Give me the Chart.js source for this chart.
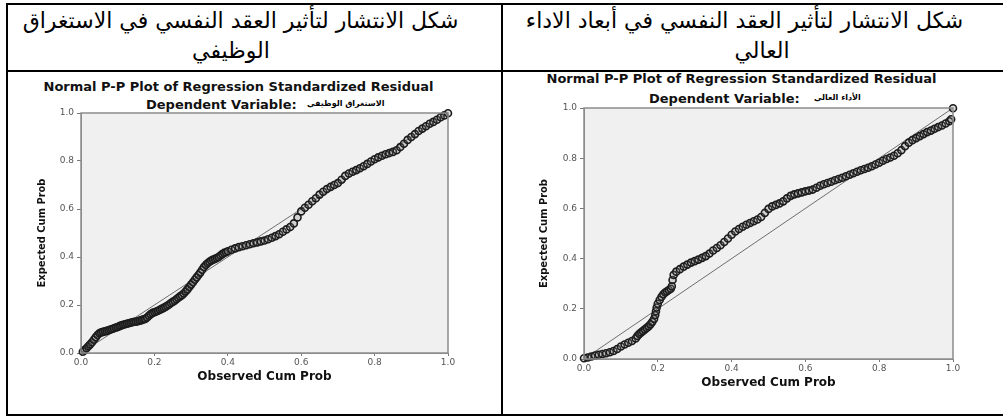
<!DOCTYPE html>
<html>
<head>
<meta charset="utf-8">
<script src="https://cdn.jsdelivr.net/npm/chart.js@4.4.1/dist/chart.umd.min.js"></script>
<style>
  html, body { margin: 0; padding: 0; background: #fff; }
  body { width: 1003px; height: 416px; position: relative; overflow: hidden; }
  .rule { position: absolute; background: #000; }
  .line { position: absolute; direction: rtl; white-space: nowrap; text-align: center;
          font-family: "DejaVu Sans", sans-serif; font-size: 22px; line-height: 28px; color: #000; }
  .ttl { position: absolute; white-space: nowrap; font: bold 13px "DejaVu Sans", sans-serif;
         line-height: 16px; color: #111; }
  .dep { position: absolute; white-space: nowrap; direction: rtl; font: bold 8px "DejaVu Sans", sans-serif;
         line-height: 10px; color: #000; }
  canvas { position: absolute; top: 73px; }
</style>
</head>
<body>
<!-- table rules -->
<div class="rule" style="left:6px; top:3px; width:997px; height:2px"></div>
<div class="rule" style="left:6px; top:3px; width:2px; height:413px"></div>
<div class="rule" style="left:501px; top:3px; width:2px; height:413px"></div>
<div class="rule" style="left:6px; top:70px; width:997px; height:2px"></div>
<div class="rule" style="left:6px; top:414px; width:997px; height:2px"></div>

<!-- header cells -->
<div class="line" style="left:0; width:481px; top:7px">شكل الانتشار لتأثير العقد النفسي  في الاستغراق</div>
<div class="line" style="left:0; width:462px; top:37px">الوظيفي</div>
<div class="line" style="left:505px; width:479px; top:7px">شكل الانتشار لتأثير العقد النفسي  في أبعاد الاداء</div>
<div class="line" style="left:505px; width:514px; top:37px">العالي</div>

<!-- chart titles -->
<div class="ttl" style="left:40px; width:397px; text-align:center; top:79px">Normal P-P Plot of Regression Standardized Residual</div>
<div class="ttl" style="left:146px; top:97px">Dependent Variable:</div>
<div class="dep" style="left:307px; top:99px">الاستغراق الوظيفي</div>

<div class="ttl" style="left:542px; width:399px; text-align:center; top:71px">Normal P-P Plot of Regression Standardized Residual</div>
<div class="ttl" style="left:649px; top:91px">Dependent Variable:</div>
<div class="dep" style="left:814px; top:93px">الأداء العالي</div>

<canvas id="ppLeft" width="491" height="340" style="left:9px"></canvas>
<canvas id="ppRight" width="497" height="340" style="left:504px"></canvas>

<script>
// axis ticks shared by both plots
const tickLabels = ["0.0", "0.2", "0.4", "0.6", "0.8", "1.0"];
const refLine = [0, 1];

// left plot: الاستغراق الوظيفي
const leftObserved = [
  0.005, 0.01, 0.015, 0.02, 0.025, 0.03, 0.035, 0.04, 0.045, 0.05,
  0.055, 0.06, 0.065, 0.07, 0.075, 0.08, 0.085, 0.09, 0.095, 0.1,
  0.105, 0.11, 0.115, 0.12, 0.125, 0.13, 0.135, 0.14, 0.145, 0.15,
  0.155, 0.16, 0.165, 0.17, 0.175, 0.18, 0.185, 0.19, 0.195, 0.2,
  0.205, 0.21, 0.215, 0.22, 0.225, 0.23, 0.235, 0.24, 0.245, 0.25,
  0.255, 0.26, 0.265, 0.27, 0.275, 0.28, 0.285, 0.29, 0.295, 0.3,
  0.305, 0.31, 0.315, 0.32, 0.325, 0.33, 0.335, 0.34, 0.345, 0.35,
  0.355, 0.36, 0.365, 0.37, 0.375, 0.38, 0.385, 0.39, 0.395, 0.4,
  0.41, 0.42, 0.43, 0.44, 0.45, 0.46, 0.47, 0.48, 0.49, 0.5,
  0.51, 0.52, 0.53, 0.54, 0.55, 0.56, 0.57, 0.58, 0.59, 0.6,
  0.61, 0.62, 0.63, 0.64, 0.65, 0.66, 0.67, 0.68, 0.69, 0.7,
  0.71, 0.72, 0.73, 0.74, 0.75, 0.76, 0.77, 0.78, 0.79, 0.8,
  0.81, 0.82, 0.83, 0.84, 0.85, 0.86, 0.87, 0.88, 0.89, 0.9,
  0.91, 0.92, 0.93, 0.94, 0.95, 0.96, 0.97, 0.98, 0.99, 1.0
];
const leftExpected = [
  0.005, 0.012, 0.02, 0.028, 0.036, 0.045, 0.055, 0.065, 0.075, 0.082,
  0.086, 0.088, 0.09, 0.092, 0.095, 0.098, 0.1, 0.103, 0.106, 0.108,
  0.112, 0.115, 0.118, 0.12, 0.122, 0.124, 0.126, 0.128, 0.13, 0.13,
  0.132, 0.135, 0.137, 0.14, 0.142, 0.148, 0.155, 0.162, 0.167, 0.17,
  0.173, 0.176, 0.18, 0.184, 0.188, 0.192, 0.197, 0.202, 0.208, 0.213,
  0.218, 0.224, 0.23, 0.236, 0.241, 0.248, 0.256, 0.265, 0.275, 0.285,
  0.295, 0.305, 0.315, 0.325, 0.335, 0.347, 0.358, 0.367, 0.374, 0.38,
  0.385, 0.389, 0.392, 0.396, 0.4, 0.406, 0.412, 0.417, 0.42, 0.424,
  0.43, 0.436, 0.441, 0.445, 0.449, 0.453, 0.457, 0.461, 0.465, 0.469,
  0.474, 0.48, 0.487, 0.495, 0.505, 0.515, 0.525, 0.54, 0.565, 0.59,
  0.605, 0.618, 0.632, 0.645, 0.66, 0.672, 0.683, 0.692, 0.7, 0.708,
  0.722, 0.738, 0.748, 0.755, 0.762, 0.77, 0.778, 0.788, 0.798, 0.807,
  0.815, 0.822, 0.828, 0.833, 0.838, 0.845, 0.858, 0.872, 0.888, 0.9,
  0.912, 0.925, 0.935, 0.945, 0.955, 0.963, 0.972, 0.982, 0.99, 0.999
];

// right plot: الأداء العالي
const rightObserved = [
  0.0, 0.01, 0.02, 0.03, 0.04, 0.05, 0.06, 0.07, 0.08, 0.09,
  0.1, 0.11, 0.12, 0.13, 0.14, 0.145, 0.15, 0.155, 0.16, 0.165,
  0.17, 0.175, 0.18, 0.185, 0.19, 0.193, 0.195, 0.197, 0.2, 0.205,
  0.21, 0.215, 0.22, 0.225, 0.23, 0.235, 0.238, 0.24, 0.243, 0.25,
  0.26, 0.27, 0.28, 0.29, 0.3, 0.31, 0.32, 0.33, 0.34, 0.35,
  0.36, 0.37, 0.38, 0.39, 0.4, 0.41, 0.42, 0.43, 0.44, 0.45,
  0.46, 0.47, 0.48, 0.49, 0.5, 0.51, 0.52, 0.53, 0.54, 0.55,
  0.56, 0.57, 0.58, 0.59, 0.6, 0.61, 0.62, 0.63, 0.64, 0.65,
  0.66, 0.67, 0.68, 0.69, 0.7, 0.71, 0.72, 0.73, 0.74, 0.75,
  0.76, 0.77, 0.78, 0.79, 0.8, 0.81, 0.82, 0.83, 0.84, 0.85,
  0.86, 0.87, 0.88, 0.89, 0.9, 0.91, 0.92, 0.93, 0.94, 0.95,
  0.96, 0.97, 0.98, 0.99, 0.995, 1.0
];
const rightExpected = [
  0.003, 0.006, 0.01, 0.014, 0.017, 0.02, 0.023, 0.027, 0.032, 0.04,
  0.05, 0.058, 0.065, 0.072, 0.082, 0.092, 0.1, 0.106, 0.112, 0.118,
  0.124, 0.13, 0.138, 0.148, 0.16, 0.175, 0.19, 0.205, 0.22, 0.235,
  0.248, 0.258, 0.265, 0.27, 0.275, 0.28, 0.29, 0.315, 0.335, 0.348,
  0.358, 0.368, 0.376, 0.384, 0.39, 0.396, 0.403, 0.41, 0.42, 0.432,
  0.442, 0.453, 0.466, 0.48, 0.495, 0.508, 0.518, 0.527, 0.535, 0.542,
  0.549, 0.556, 0.566, 0.582, 0.598, 0.608, 0.614, 0.62, 0.628, 0.64,
  0.65, 0.656, 0.66, 0.664, 0.668, 0.671, 0.675, 0.682, 0.69, 0.696,
  0.701, 0.706, 0.712, 0.717, 0.722, 0.728, 0.734, 0.74, 0.746, 0.752,
  0.757, 0.762, 0.768, 0.775, 0.782, 0.79, 0.797, 0.803, 0.81, 0.82,
  0.832, 0.848, 0.862, 0.872, 0.88, 0.888, 0.896, 0.904, 0.91, 0.917,
  0.924, 0.93, 0.938, 0.947, 0.955, 0.999
];

// grey plot area with a thin frame, like SPSS
const plotFrame = {
  id: "plotFrame",
  beforeDraw(chart) {
    const { ctx, chartArea: a } = chart;
    ctx.save();
    ctx.fillStyle = "#f0f0f0";
    ctx.fillRect(a.left, a.top, a.width, a.height);
    ctx.restore();
  },
  afterDraw(chart) {
    const { ctx, chartArea: a } = chart;
    ctx.save();
    ctx.strokeStyle = "#8c8c8c";
    ctx.lineWidth = 1.5;
    ctx.strokeRect(a.left, a.top, a.width, a.height);
    ctx.restore();
  }
};

const tickFont = { family: "DejaVu Sans", size: 9 };

function ppChart(id, observed, expected, box) {
  const points = observed.map((x, i) => ({ x, y: expected[i] }));
  const diag = refLine.map((v) => ({ x: v, y: v }));

  return new Chart(document.getElementById(id), {
    type: "scatter",
    data: {
      datasets: [
        {
          type: "line",
          data: diag,
          borderColor: "#6e6e6e",
          borderWidth: 1,
          pointRadius: 0,
          order: 2
        },
        {
          data: points,
          pointRadius: 3.5,
          pointBorderWidth: 1.6,
          borderColor: "#1c1c1c",
          backgroundColor: "rgba(120,120,120,0.25)",
          clip: false,
          order: 1
        }
      ]
    },
    options: {
      responsive: false,
      animation: false,
      devicePixelRatio: 1,
      layout: { padding: { left: 0, top: box.top, right: box.right, bottom: 0 } },
      plugins: { legend: { display: false }, tooltip: { enabled: false } },
      scales: {
        x: {
          type: "linear",
          min: 0,
          max: 1,
          grid: { drawOnChartArea: false, tickLength: 3, color: "#777" },
          border: { color: "#8c8c8c" },
          ticks: { stepSize: 0.2, padding: 1, font: tickFont, color: "#555",
                   callback: (v, i) => tickLabels[i] },
          title: { display: true, text: "Observed Cum Prob", color: "#111",
                   font: { family: "DejaVu Sans", size: 12, weight: "bold" },
                   padding: { top: 0, bottom: box.xTitlePad } },
          afterFit: (s) => { s.height = box.xAxisH; }
        },
        y: {
          type: "linear",
          min: 0,
          max: 1,
          grid: { drawOnChartArea: false, tickLength: 4, color: "#777" },
          border: { color: "#8c8c8c" },
          ticks: { stepSize: 0.2, padding: 3, font: tickFont, color: "#555",
                   callback: (v, i) => tickLabels[i] },
          title: { display: true, text: "Expected Cum Prob", color: "#111",
                   font: { family: "'Liberation Sans Narrow', 'DejaVu Sans Condensed', 'Liberation Sans'", size: 11, weight: "bold" },
                   padding: { top: box.yTitlePad, bottom: 0 } },
          afterFit: (s) => { s.width = box.yAxisW; }
        }
      }
    },
    plugins: [plotFrame]
  });
}

ppChart("ppLeft", leftObserved, leftExpected,
  { top: 40, right: 52, xAxisH: 60, yAxisW: 72, xTitlePad: 29, yTitlePad: 27 });
ppChart("ppRight", rightObserved, rightExpected,
  { top: 35, right: 48, xAxisH: 54, yAxisW: 80, xTitlePad: 23, yTitlePad: 34 });
</script>
</body>
</html>
